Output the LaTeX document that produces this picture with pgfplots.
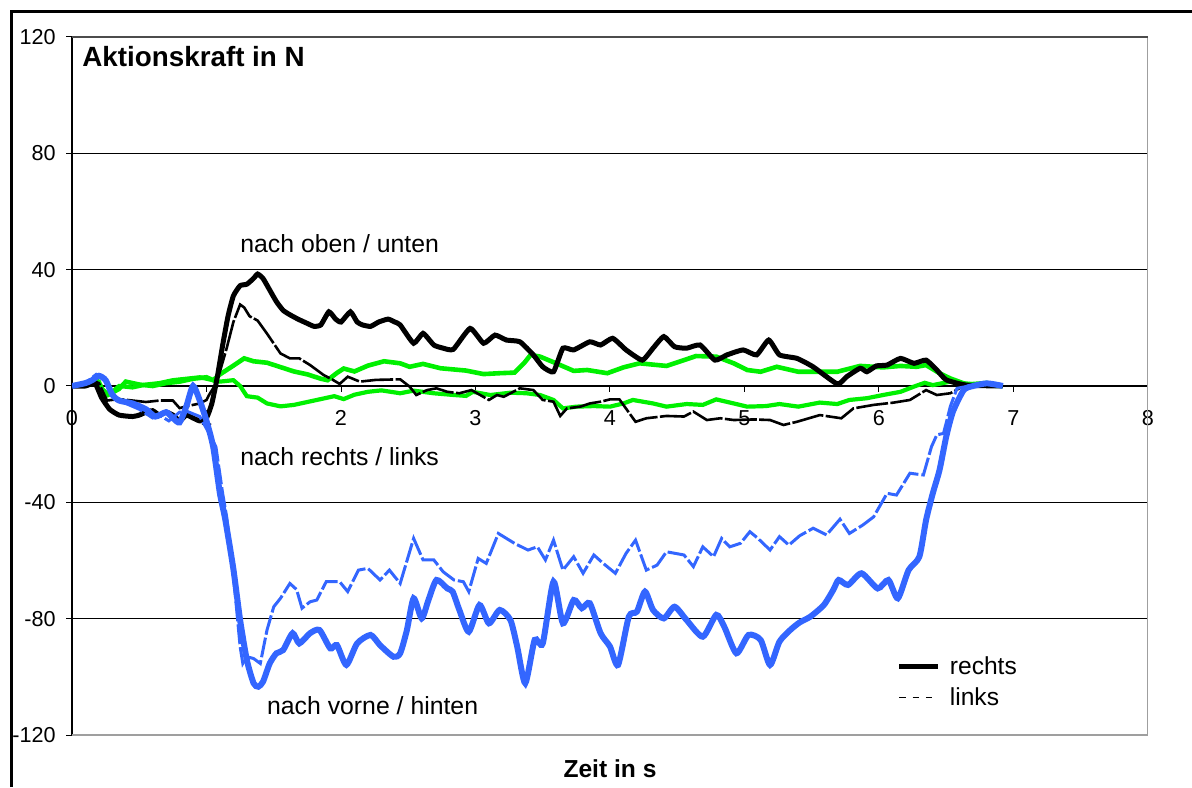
\documentclass[border=0pt]{standalone}
\usepackage{pgfplots}
\pgfplotsset{compat=1.18}
\usepackage{fontspec}
\setmainfont{Liberation Sans}
\definecolor{lblue}{RGB}{51,102,255}
\definecolor{lgreen}{RGB}{0,240,0}
\begin{document}
\begin{tikzpicture}[x=0.5pt,y=0.5pt]
\useasboundingbox (0,0) rectangle (1192,787);
\draw[line width=1.5pt] (11,0) -- (11,775) -- (1192,775);
\begin{axis}[
  at={(36pt,26pt)}, anchor=south west,
  scale only axis, width=538pt, height=349pt,
  xmin=0, xmax=8, ymin=-120, ymax=120,
  axis x line*=middle, axis y line*=left,
  axis line style={-, black, line width=0.6pt},
  hide obscured x ticks=false, hide obscured y ticks=false,
  xtick={0,1,...,8}, ytick={-120,-80,...,120},
  tick align=outside, major tick length=3pt,
  tick style={black, line width=0.5pt},
  ymajorgrids, grid style={black, line width=0.45pt},
  /pgf/number format/assume math mode=true,
  tick label style={font=\fontsize{10.8}{12}\selectfont},
  x tick label style={anchor=north, inner sep=0pt, yshift=-9pt},
  y tick label style={anchor=east, inner sep=0pt, xshift=-5pt},
  xlabel={Zeit in s},
  xlabel style={at={(rel axis cs:0.5,0)}, anchor=base, inner sep=0pt, yshift=-21pt, font=\bfseries\fontsize{12.3}{14}\selectfont},
  legend image code/.code={\draw[#1] (0pt,0pt) -- (19.5pt,0pt);},
  legend style={at={(axis cs:6.13,-91.5)}, anchor=north west, draw=none, fill=none,
    font=\fontsize{12.3}{14}\selectfont, row sep=1pt, inner sep=0pt,
    nodes={inner xsep=4.5pt}},
  legend cell align=left,
]
% green upper
\addplot[forget plot, lgreen, line width=2.3pt] coordinates {
(0,0)(0.1,1)(0.18,2.5)(0.22,-1)(0.27,-3)(0.35,-1)(0.4,1.5)(0.5,0.5)(0.6,0)(0.7,1)(0.8,1.5)(0.9,2.5)(1.0,3)(1.05,2)(1.1,4)(1.2,7)(1.28,9.5)(1.35,8.5)(1.45,8)(1.55,6.5)(1.65,5)(1.75,4)(1.85,2.5)(1.9,2)(1.97,4.5)(2.02,6)(2.1,5)(2.2,7)(2.32,8.5)(2.44,7.8)(2.51,6.6)(2.61,7.6)(2.74,6.1)(2.93,5.3)(3.06,4.1)(3.18,4.4)(3.29,4.6)(3.36,7.8)(3.41,10.7)(3.48,10.1)(3.60,7.8)(3.73,5.2)(3.83,5.5)(3.98,4.4)(4.10,6.4)(4.22,7.8)(4.42,6.9)(4.55,8.9)(4.64,10.3)(4.79,10.1)(4.92,7.8)(5.02,5.5)(5.12,4.9)(5.24,6.6)(5.40,4.9)(5.56,4.9)(5.69,4.9)(5.86,6.9)(6.03,6.4)(6.16,6.9)(6.28,6.6)(6.35,7.2)(6.45,4.4)(6.53,2.6)(6.63,0.9)(6.75,0.3)(6.92,0)
};
% green lower
\addplot[forget plot, lgreen, line width=2.1pt] coordinates {
(0,0)(0.1,1)(0.15,2)(0.2,1.5)(0.25,-3.5)(0.3,-2)(0.35,0)(0.45,-0.5)(0.55,0.5)(0.65,1)(0.75,2)(0.85,2.5)(0.95,3)(1.0,2.5)(1.1,1.5)(1.2,2)(1.25,0)(1.3,-3.5)(1.38,-4)(1.45,-6)(1.55,-7)(1.65,-6.5)(1.75,-5.5)(1.85,-4.5)(1.95,-3.5)(2.02,-4.5)(2.1,-3)(2.2,-2)(2.3,-1.5)(2.44,-2.5)(2.54,-1.6)(2.69,-2.5)(2.84,-3.1)(2.93,-3.4)(2.98,-2)(3.11,-3.1)(3.26,-2.3)(3.38,-2.5)(3.48,-3.1)(3.58,-4.8)(3.65,-7.7)(3.75,-7.1)(3.88,-6.9)(4.00,-7.1)(4.10,-6)(4.17,-4.8)(4.32,-6)(4.42,-7.1)(4.57,-6.2)(4.69,-6.5)(4.79,-4.6)(4.92,-6)(5.02,-7.1)(5.16,-6.9)(5.26,-6.2)(5.40,-7.1)(5.56,-5.7)(5.69,-6.2)(5.78,-4.8)(5.91,-4.2)(6.03,-3.1)(6.16,-2)(6.26,-0.2)(6.34,1.1)(6.40,0.3)(6.53,1.5)(6.63,0.5)(6.80,1.1)(6.92,0)
};
% black thin (links)
\addplot[forget plot, black, line width=1.3pt, dash pattern=on 16pt off 1.2pt] coordinates {
(0,0)(0.1,0)(0.15,2)(0.2,1)(0.26,-5)(0.35,-4.5)(0.45,-5)(0.55,-5.5)(0.65,-5)(0.75,-5)(0.8,-7.6)(0.85,-7)(0.95,-6)(1.0,-4.8)(1.02,-3)(1.06,0)(1.1,5)(1.15,13)(1.2,22)(1.25,28)(1.28,27)(1.32,24)(1.38,22.5)(1.45,18)(1.55,11.2)(1.62,9.5)(1.69,9.5)(1.77,7.2)(1.87,3.8)(1.94,2.1)(1.99,0.7)(2.05,3.2)(2.14,1.5)(2.26,2.1)(2.44,2.3)(2.51,-0.2)(2.56,-3.1)(2.64,-1.4)(2.71,-0.8)(2.79,-2)(2.88,-2.5)(2.97,-1.4)(3.10,-4.8)(3.16,-3.1)(3.21,-3.7)(3.33,-0.8)(3.43,-1.4)(3.50,-4.8)(3.58,-5.4)(3.63,-10.3)(3.68,-7.7)(3.78,-7.1)(3.85,-6)(3.93,-5.4)(4.00,-4.6)(4.07,-4.6)(4.19,-12.3)(4.27,-11.1)(4.42,-10.3)(4.55,-10.5)(4.62,-8.8)(4.72,-11.7)(4.82,-11.1)(4.92,-11.7)(5.07,-11.5)(5.19,-11.7)(5.29,-13.4)(5.39,-12.3)(5.56,-10)(5.72,-11.1)(5.81,-7.7)(5.96,-6.5)(6.11,-5.7)(6.23,-4.8)(6.35,-1.4)(6.43,-3.1)(6.53,-2.5)(6.63,0)(6.92,0)
};
% black thick (rechts)
\addplot[forget plot, black, line width=2.5pt, smooth, tension=0.3] coordinates {
(0,0)(0.1,0)(0.17,1)(0.22,-4)(0.28,-8)(0.35,-10)(0.45,-10.5)(0.5,-10)(0.55,-9)(0.6,-8.5)(0.65,-10)(0.7,-9)(0.75,-10)(0.8,-12)(0.85,-10)(0.9,-11)(0.95,-12)(1.0,-11)(1.04,-6)(1.08,3)(1.12,14)(1.16,24)(1.2,31)(1.25,34.5)(1.3,35)(1.35,37)(1.38,38.5)(1.42,37)(1.47,33)(1.52,29)(1.57,26)(1.62,24.5)(1.68,23)(1.75,21.5)(1.8,20.5)(1.85,21)(1.91,25.5)(1.96,23)(2.0,22)(2.07,25.5)(2.12,22)(2.16,21)(2.22,20.5)(2.28,22)(2.35,23)(2.4,22)(2.44,21)(2.54,14.7)(2.61,18.1)(2.69,14.1)(2.76,13)(2.835,12.6)(2.96,19.8)(3.06,14.7)(3.145,17.5)(3.23,15.8)(3.33,15.2)(3.43,10.7)(3.50,6.6)(3.58,4.9)(3.65,13)(3.73,12.4)(3.85,15.2)(3.93,14.1)(4.02,16.4)(4.12,12.4)(4.24,8.9)(4.32,13)(4.40,17)(4.48,13.5)(4.57,13)(4.67,14.1)(4.78,8.9)(4.87,10.7)(4.99,12.4)(5.09,10.7)(5.18,15.8)(5.26,10.7)(5.39,9.5)(5.51,6.6)(5.69,0.7)(5.76,3.2)(5.86,6.1)(5.91,4.9)(5.98,6.9)(6.06,7.2)(6.16,9.5)(6.26,7.8)(6.35,8.9)(6.43,5.5)(6.50,2.1)(6.65,0.3)(6.92,0)
};
% blue dashed (links)
\addplot[forget plot, lblue, line width=1.5pt, dash pattern=on 10pt off 1.5pt] coordinates {
(0,0)(0.1,1)(0.18,4)(0.25,2)(0.3,-3)(0.4,-6)(0.5,-8)(0.6,-11)(0.65,-10)(0.72,-12)(0.8,-9)(0.86,-8.8)(0.95,-10.5)(1.02,-16.3)(1.07,-20.9)(1.12,-36.9)(1.15,-45)(1.20,-65)(1.25,-89.6)(1.27,-95.4)(1.30,-93.1)(1.35,-93.7)(1.40,-95.4)(1.45,-83.9)(1.50,-75.9)(1.55,-73)(1.62,-67.9)(1.67,-70)(1.71,-76.4)(1.77,-74.2)(1.82,-73.6)(1.89,-67.3)(1.99,-67.3)(2.05,-70.7)(2.13,-63.3)(2.20,-62.7)(2.29,-66.7)(2.36,-63.3)(2.44,-67.9)(2.54,-52.4)(2.61,-59.8)(2.69,-59.8)(2.76,-63.9)(2.84,-66.7)(2.91,-67.3)(2.95,-70.7)(3.02,-59.3)(3.08,-61)(3.17,-50.7)(3.29,-54.1)(3.39,-56.4)(3.46,-55.3)(3.52,-59.8)(3.58,-53)(3.65,-63.3)(3.73,-58.7)(3.80,-64.4)(3.88,-58.1)(3.95,-61)(4.04,-64.4)(4.12,-57.5)(4.19,-53)(4.27,-63.3)(4.35,-61.6)(4.42,-57)(4.55,-58.1)(4.62,-62.1)(4.69,-55.3)(4.77,-58.7)(4.83,-52.4)(4.89,-55.3)(4.97,-54.1)(5.04,-50.1)(5.10,-52.4)(5.19,-56.4)(5.26,-51.8)(5.33,-54.7)(5.41,-51.5)(5.51,-48.9)(5.61,-51.2)(5.71,-45.8)(5.78,-50.7)(5.88,-47.8)(5.96,-45)(6.06,-36.9)(6.13,-37.5)(6.23,-30)(6.33,-30.6)(6.39,-20.9)(6.43,-16.8)(6.48,-16.3)(6.53,-7.1)(6.58,-0.8)(6.67,0)(6.80,1)(6.92,0)
};
% blue thick (rechts)
\addplot[forget plot, lblue, line width=3pt, smooth, tension=0.4] coordinates {
(0,0)(0.1,1)(0.15,2)(0.2,3.5)(0.25,2)(0.3,-3)(0.35,-5)(0.45,-6)(0.55,-8)(0.62,-10.5)(0.7,-9)(0.75,-11)(0.8,-12.5)(0.85,-7)(0.9,0)(0.95,-5)(1.0,-12)(1.05,-21)(1.1,-37)(1.14,-46)(1.20,-63)(1.25,-80.5)(1.30,-94.2)(1.35,-102.2)(1.385,-103.4)(1.42,-101.7)(1.47,-95.4)(1.52,-91.9)(1.57,-90.8)(1.64,-85)(1.69,-88.5)(1.77,-85)(1.84,-83.9)(1.92,-90.2)(1.97,-89.1)(2.04,-95.9)(2.12,-88.5)(2.22,-85.6)(2.29,-89.1)(2.39,-93.1)(2.44,-91.9)(2.49,-83.9)(2.54,-73)(2.60,-79.9)(2.65,-73.6)(2.71,-66.7)(2.79,-69.6)(2.83,-70.7)(2.88,-77)(2.95,-84.5)(3.03,-75.3)(3.10,-81.6)(3.18,-77)(3.26,-80.5)(3.31,-89.6)(3.37,-102.2)(3.44,-87.3)(3.50,-88.5)(3.58,-67.3)(3.65,-81.6)(3.73,-73.6)(3.79,-76.4)(3.85,-74.7)(3.93,-85)(4.00,-89.6)(4.06,-95.9)(4.14,-79.3)(4.20,-77.6)(4.26,-70.7)(4.32,-77)(4.40,-79.9)(4.48,-75.9)(4.57,-80.5)(4.69,-86.2)(4.79,-78.7)(4.85,-82.8)(4.94,-91.9)(5.03,-85.6)(5.12,-87.3)(5.19,-95.9)(5.26,-87.9)(5.34,-83.9)(5.41,-81.3)(5.49,-79.3)(5.59,-75.3)(5.66,-70.1)(5.70,-66.7)(5.77,-68.4)(5.87,-64.4)(5.99,-69.6)(6.07,-66.7)(6.14,-73)(6.22,-63.3)(6.30,-58.7)(6.35,-46.1)(6.40,-36.9)(6.45,-28.9)(6.50,-17.4)(6.55,-8.8)(6.63,-1.4)(6.70,0)(6.80,0.9)(6.89,0.3)(6.92,0)
};
\addlegendimage{black, line width=2.5pt}
\addlegendentry{rechts}
\addlegendimage{black, line width=0.6pt, dash pattern=on 3.3pt off 3.3pt}
\addlegendentry{links}
% plot area border
\draw[gray!75, line width=0.8pt] (rel axis cs:0,0) -- (rel axis cs:1,0) -- (rel axis cs:1,1);
\draw[gray!60!black, line width=0.6pt] (rel axis cs:0,1) -- (rel axis cs:1,1);
\node[anchor=base west, inner sep=0pt, font=\bfseries\fontsize{13.9}{16}\selectfont] at (axis cs:0.074,109.7) {Aktionskraft in N};
\node[anchor=base west, inner sep=0pt, font=\fontsize{12.4}{14}\selectfont] at (axis cs:1.249,45.8) {nach oben / unten};
\node[anchor=base west, inner sep=0pt, font=\fontsize{12.4}{14}\selectfont] at (axis cs:1.249,-27.2) {nach rechts / links};
\node[anchor=base west, inner sep=0pt, font=\fontsize{12.4}{14}\selectfont] at (axis cs:1.448,-113.1) {nach vorne / hinten};
\end{axis}
\end{tikzpicture}
\end{document}
